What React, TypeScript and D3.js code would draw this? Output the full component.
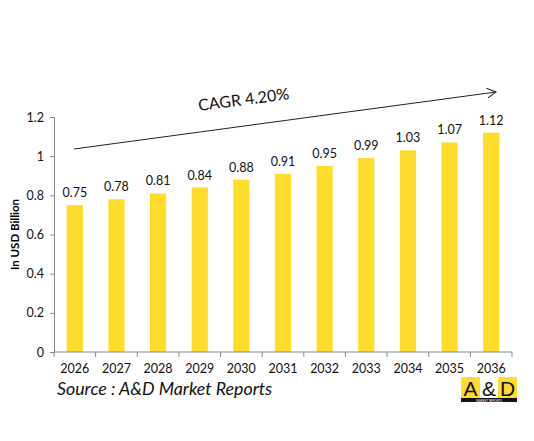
import { useEffect, useRef } from 'react';
import * as d3 from 'd3';

const WIDTH = 534;
const HEIGHT = 441;
const YELLOW = '#FDDC2C';
const AXIS = '#888888';
const FONT = 'Lato, "Open Sans", sans-serif';

const years = ['2026', '2027', '2028', '2029', '2030', '2031', '2032', '2033', '2034', '2035', '2036'];
const values = [0.75, 0.78, 0.81, 0.84, 0.88, 0.91, 0.95, 0.99, 1.03, 1.07, 1.12];
const yTicks = [0, 0.2, 0.4, 0.6, 0.8, 1, 1.2];

const margin = { left: 54, right: 22, top: 117, bottom: 89 };

export default function App() {
  const ref = useRef<SVGSVGElement>(null);

  useEffect(() => {
    const svg = d3.select(ref.current);
    svg.selectAll('*').remove();

    const x = d3.scaleBand<string>()
      .domain(years)
      .range([margin.left, WIDTH - margin.right])
      .paddingInner(0.61)
      .paddingOuter(0.305);

    const y = d3.scaleLinear()
      .domain([0, 1.2])
      .range([HEIGHT - margin.bottom, margin.top]);

    // bars
    svg.append('g')
      .selectAll('rect')
      .data(values)
      .join('rect')
      .attr('x', (_, i) => x(years[i])!)
      .attr('y', d => y(d))
      .attr('width', x.bandwidth())
      .attr('height', d => y(0) - y(d))
      .attr('fill', YELLOW);

    // value labels
    svg.append('g')
      .selectAll('text')
      .data(values)
      .join('text')
      .attr('x', (_, i) => x(years[i])! + x.bandwidth() / 2)
      .attr('y', d => y(d) - 8)
      .attr('text-anchor', 'middle')
      .attr('font-family', FONT)
      .attr('font-size', 12.5)
      .attr('fill', '#111')
      .text(d => d.toFixed(2));

    // y axis
    const yAxis = svg.append('g')
      .attr('transform', `translate(${margin.left},0)`)
      .call(d3.axisLeft(y).tickValues(yTicks).tickSize(4).tickPadding(6).tickFormat(d => String(d)));
    yAxis.select('.domain').attr('stroke', AXIS);
    yAxis.selectAll('line').attr('stroke', AXIS);
    yAxis.selectAll('text').attr('font-family', FONT).attr('font-size', 12.5).attr('fill', '#111');

    // x axis with ticks between categories
    const xAxisG = svg.append('g').attr('transform', `translate(0,${y(0)})`);
    xAxisG.append('line')
      .attr('x1', margin.left).attr('x2', WIDTH - margin.right)
      .attr('stroke', AXIS);
    const step = x.step();
    const boundaries = d3.range(years.length + 1).map(i => margin.left + i * step);
    xAxisG.selectAll('line.tick')
      .data(boundaries)
      .join('line')
      .attr('class', 'tick')
      .attr('x1', d => d).attr('x2', d => d)
      .attr('y1', 0).attr('y2', 5)
      .attr('stroke', AXIS);
    xAxisG.selectAll('text')
      .data(years)
      .join('text')
      .attr('x', d => x(d)! + x.bandwidth() / 2)
      .attr('y', 21)
      .attr('text-anchor', 'middle')
      .attr('font-family', FONT)
      .attr('font-size', 12.5)
      .attr('fill', '#111')
      .text(d => d);

    // y axis title
    svg.append('text')
      .attr('transform', `translate(19,${(y(0) + y(1.2)) / 2}) rotate(-90)`)
      .attr('text-anchor', 'middle')
      .attr('font-family', FONT)
      .attr('font-size', 11.5)
      .attr('font-weight', 'bold')
      .text('In USD Billion');

    // CAGR arrow
    svg.append('defs').append('marker')
      .attr('id', 'arrow')
      .attr('viewBox', '0 0 10 10')
      .attr('refX', 9).attr('refY', 5)
      .attr('markerWidth', 10).attr('markerHeight', 10)
      .attr('markerUnits', 'userSpaceOnUse')
      .attr('orient', 'auto')
      .append('path')
      .attr('d', 'M0,0 L9,5 L0,10')
      .attr('fill', 'none')
      .attr('stroke', '#222')
      .attr('stroke-width', 1);

    svg.append('line')
      .attr('x1', 74).attr('y1', 149)
      .attr('x2', 496).attr('y2', 92)
      .attr('stroke', '#222')
      .attr('stroke-width', 1)
      .attr('marker-end', 'url(#arrow)');

    svg.append('text')
      .attr('transform', 'translate(199,111) rotate(-7.5)')
      .attr('font-family', FONT)
      .attr('font-size', 16)
      .attr('fill', '#111')
      .text('CAGR 4.20%');

    // source
    svg.append('text')
      .attr('x', 57).attr('y', 395)
      .attr('font-family', FONT)
      .attr('font-size', 17.8)
      .attr('font-style', 'italic')
      .attr('fill', '#111')
      .text('Source : A&D Market Reports');

    // logo
    const logo = svg.append('g').attr('transform', 'translate(461,377)');
    logo.append('rect').attr('width', 56).attr('height', 22).attr('fill', YELLOW);
    logo.append('rect').attr('x', 19).attr('width', 18).attr('height', 22).attr('fill', '#fff');
    logo.append('rect').attr('y', 21).attr('width', 56).attr('height', 4).attr('fill', '#111');
    [['A', 9.5], ['&', 28], ['D', 46.5]].forEach(([t, cx]) => {
      logo.append('text')
        .attr('x', cx as number).attr('y', 18.5)
        .attr('text-anchor', 'middle')
        .attr('font-family', '"Liberation Sans", Arial, sans-serif')
        .attr('font-size', 21)
        .attr('fill', '#111')
        .text(t as string);
    });
    logo.append('text')
      .attr('x', 28).attr('y', 24.5)
      .attr('text-anchor', 'middle')
      .attr('font-family', FONT)
      .attr('font-size', 3)
      .attr('fill', '#fff')
      .text('MARKET REPORTS');
  }, []);

  return <svg ref={ref} width={WIDTH} height={HEIGHT} style={{ display: 'block', margin: '-8px' }} />;
}
